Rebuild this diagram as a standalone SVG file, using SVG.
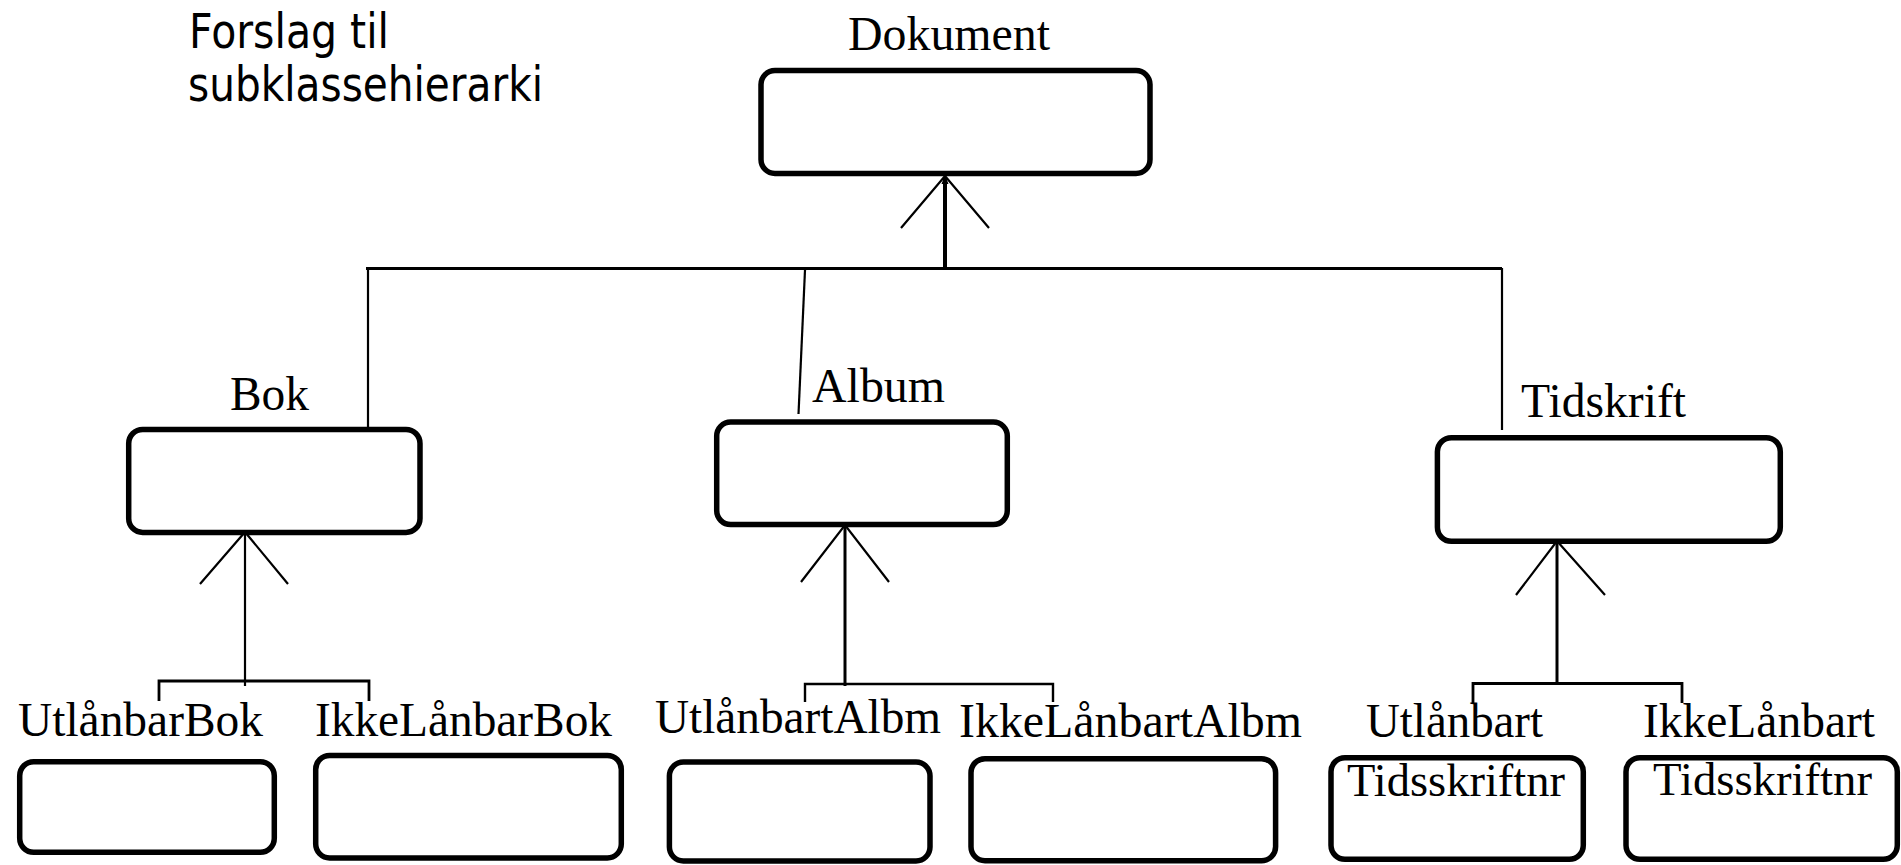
<svg xmlns="http://www.w3.org/2000/svg" width="1901" height="865" viewBox="0 0 1901 865">
  <style>
    .box { fill: #ffffff; stroke: #000000; stroke-width: 5.5; }
    .lbl { font-family: "Liberation Serif", "Times New Roman", serif; font-size: 48px; fill: #000000; }
    .title { font-family: "DejaVu Sans", Tahoma, Verdana, sans-serif; font-size: 48px; fill: #000000; }
    .ln { stroke: #000000; stroke-width: 2.2; fill: none; }
    .br { stroke: #000000; stroke-width: 2.8; fill: none; }
    .shaft { stroke: #000000; stroke-width: 4; fill: none; }
  </style>
  <rect x="0" y="0" width="1901" height="865" fill="#ffffff"/>

  <!-- heading -->
  <g id="heading">
    <text class="title" x="189" y="48" textLength="200" lengthAdjust="spacingAndGlyphs">Forslag til</text>
    <text class="title" x="188" y="101" textLength="355" lengthAdjust="spacingAndGlyphs">subklassehierarki</text>
  </g>

  <!-- connectors -->
  <g id="connectors">
    <!-- Dokument generalisation -->
    <line class="shaft" x1="945" y1="178" x2="945" y2="269"/>
    <polygon points="945,175 941.5,184 948.5,184" fill="#000000"/>
    <polyline class="ln" points="901,228 945,176 989,228"/>
    <line class="br" x1="366" y1="268.5" x2="1502" y2="268.5"/>
    <line class="ln" x1="368" y1="268" x2="368" y2="427"/>
    <line class="ln" x1="805" y1="270" x2="798.5" y2="414"/>
    <line class="ln" x1="1502" y1="268" x2="1502" y2="430"/>

    <!-- Bok generalisation -->
    <line class="ln" x1="245" y1="532" x2="245" y2="686"/>
    <polyline class="ln" points="200,584 245,532 288,584"/>
    <polyline class="br" points="159,701 159,681 369,681 369,701"/>

    <!-- Album generalisation -->
    <line class="shaft" x1="845" y1="525" x2="845" y2="686" style="stroke-width:3"/>
    <polyline class="ln" points="801,582 845,525 889,582"/>
    <polyline class="br" points="805,702 805,684 1053,684 1053,702" style="stroke-width:2.4"/>

    <!-- Tidskrift generalisation -->
    <line class="shaft" x1="1557" y1="541" x2="1557" y2="685" style="stroke-width:3"/>
    <polyline class="ln" points="1516,595 1557,541 1605,595"/>
    <polyline class="br" points="1473,703 1473,683.5 1682,683.5 1682,703"/>
  </g>

  <!-- classes -->
  <g id="dokument">
    <text class="lbl" x="848" y="50" textLength="202" lengthAdjust="spacingAndGlyphs">Dokument</text>
    <rect class="box" x="761" y="70.5" width="389" height="103" rx="14"/>
  </g>

  <g id="bok">
    <text class="lbl" x="230" y="410" textLength="79" lengthAdjust="spacingAndGlyphs">Bok</text>
    <rect class="box" x="128.7" y="429.4" width="291.3" height="103" rx="14"/>
  </g>

  <g id="album">
    <text class="lbl" x="812" y="402" textLength="133" lengthAdjust="spacingAndGlyphs">Album</text>
    <rect class="box" x="716.7" y="422" width="290.6" height="102.6" rx="14"/>
  </g>

  <g id="tidskrift">
    <text class="lbl" x="1521" y="417" textLength="165" lengthAdjust="spacingAndGlyphs">Tidskrift</text>
    <rect class="box" x="1437.4" y="437.7" width="342.9" height="103.6" rx="14"/>
  </g>

  <g id="utlanbarbok">
    <text class="lbl" x="18" y="736" textLength="245" lengthAdjust="spacingAndGlyphs">UtlånbarBok</text>
    <rect class="box" x="19.7" y="761.7" width="254.6" height="90.6" rx="14"/>
  </g>

  <g id="ikkelanbarbok">
    <text class="lbl" x="315" y="736" textLength="297" lengthAdjust="spacingAndGlyphs">IkkeLånbarBok</text>
    <rect class="box" x="315.7" y="755.4" width="305.6" height="102.6" rx="14"/>
  </g>

  <g id="utlanbartalbm">
    <text class="lbl" x="655" y="733" textLength="286" lengthAdjust="spacingAndGlyphs">UtlånbartAlbm</text>
    <rect class="box" x="669.4" y="762" width="260.6" height="99" rx="14"/>
  </g>

  <g id="ikkelanbartalbm">
    <text class="lbl" x="959" y="737" textLength="343" lengthAdjust="spacingAndGlyphs">IkkeLånbartAlbm</text>
    <rect class="box" x="971" y="758.7" width="304.6" height="102" rx="14"/>
  </g>

  <g id="utlanbart-tidsskriftnr">
    <text class="lbl" x="1366" y="737" textLength="177" lengthAdjust="spacingAndGlyphs">Utlånbart</text>
    <rect class="box" x="1331" y="757.7" width="252.3" height="101.6" rx="14"/>
    <text class="lbl" x="1347" y="796" style="font-size:47px" textLength="218" lengthAdjust="spacingAndGlyphs">Tidsskriftnr</text>
  </g>

  <g id="ikkelanbart-tidsskriftnr">
    <text class="lbl" x="1643" y="737" textLength="232" lengthAdjust="spacingAndGlyphs">IkkeLånbart</text>
    <rect class="box" x="1626" y="757.7" width="271.3" height="101.6" rx="14"/>
    <text class="lbl" x="1653" y="795" style="font-size:47px" textLength="219" lengthAdjust="spacingAndGlyphs">Tidsskriftnr</text>
  </g>
</svg>
